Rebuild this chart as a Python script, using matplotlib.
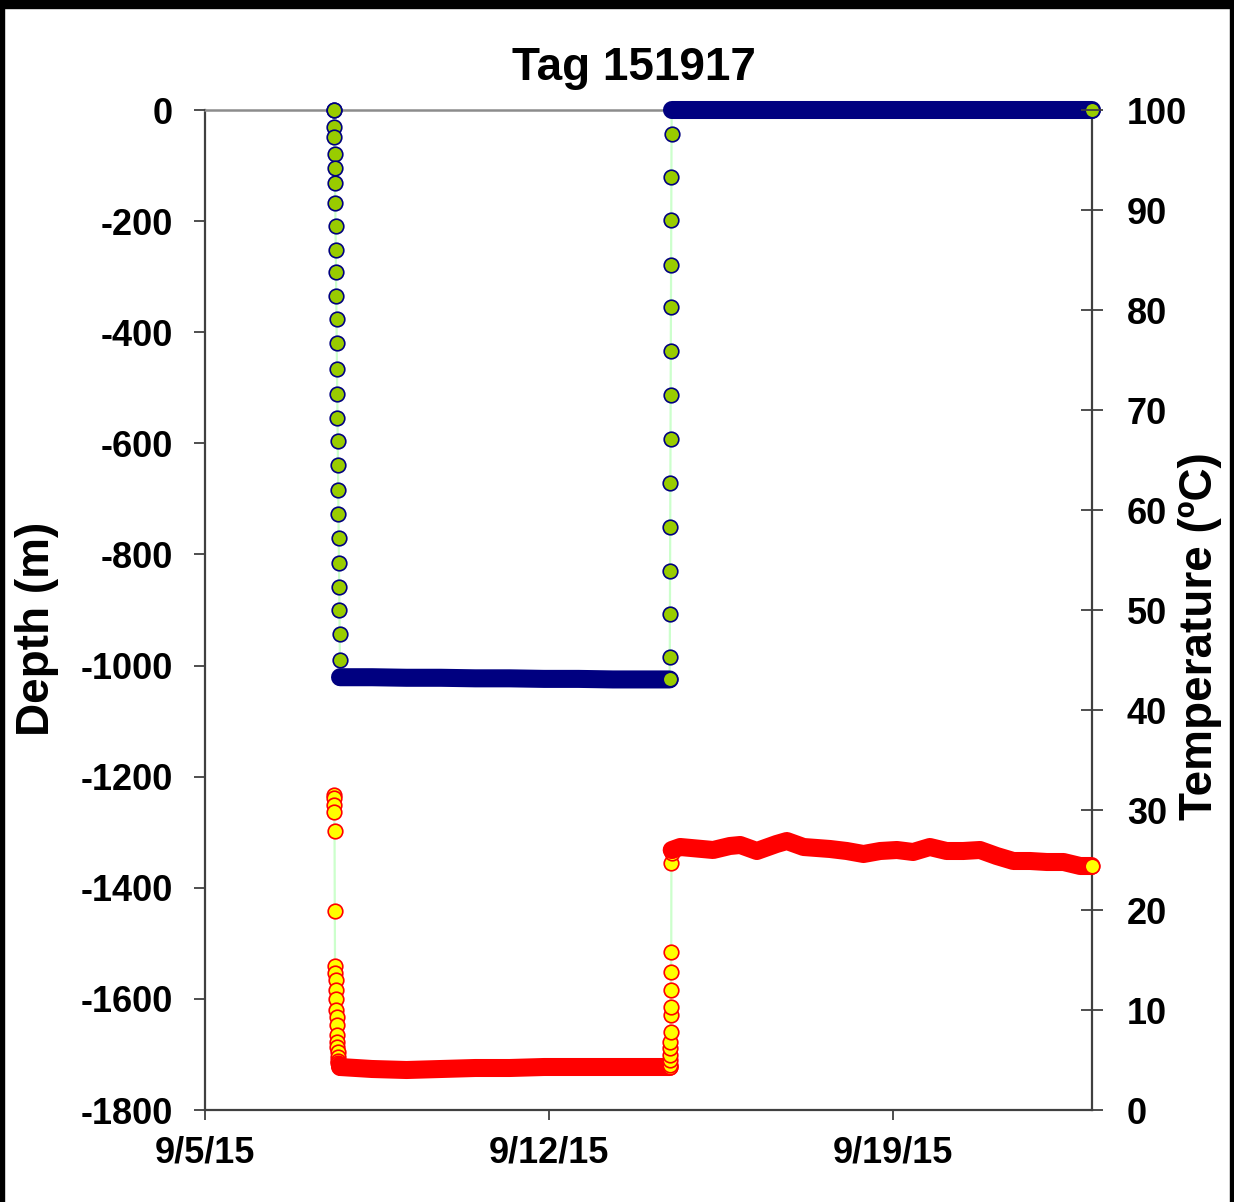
import datetime as dt
import matplotlib
matplotlib.use("Agg")
import matplotlib.pyplot as plt
import matplotlib.dates as mdates
from matplotlib.patches import Rectangle
from matplotlib.ticker import FixedLocator, FuncFormatter

plt.rcParams['font.family'] = ['Liberation Sans', 'DejaVu Sans']
plt.rcParams['font.weight'] = 'bold'

TITLE = "Tag 151917"
START = dt.datetime(2015, 9, 5)

# day offsets from 9/5/15 00:00
descent_day = [2.615, 2.620, 2.626, 2.631, 2.636, 2.641, 2.646, 2.651, 2.656, 2.661,
               2.666, 2.671, 2.676, 2.681, 2.686, 2.691, 2.696, 2.701, 2.706, 2.711,
               2.716, 2.721, 2.726, 2.731, 2.736, 2.741, 2.745, 2.748]
descent_depth = [0, 0, -31, -49, -79, -104, -131, -167, -209, -252, -292, -335, -376, -419,
                 -466, -511, -554, -596, -639, -684, -727, -770, -815, -859, -900, -943, -990, -1021]
descent_temp = [31.5, 31.2, 30.5, 29.8, 27.9, 19.9, 14.4, 13.7, 13.0, 12.0, 11.1, 10.0, 9.3, 8.5,
                7.5, 6.8, 6.3, 5.8, 5.3, 4.9, 4.7, 4.6, 4.5, 4.4, 4.4, 4.3, 4.3, 4.3]

bottom_day = [2.748, 3.4, 4.1, 4.8, 5.5, 6.2, 6.9, 7.6, 8.3, 9.0, 9.455]
bottom_depth = [-1021, -1021, -1022, -1022, -1023, -1023, -1024, -1024, -1025, -1025, -1025]
bottom_temp = [4.3, 4.1, 4.0, 4.1, 4.2, 4.2, 4.3, 4.3, 4.3, 4.3, 4.3]

ascent_day = [9.455, 9.458, 9.461, 9.464, 9.467, 9.470, 9.473, 9.476, 9.479, 9.482,
              9.485, 9.488, 9.491, 9.494, 9.497]
ascent_depth = [-1025, -985, -907, -830, -751, -671, -592, -513, -434, -355, -279, -198, -121, -43, 0]
ascent_temp = [4.3, 4.5, 5.0, 5.5, 6.2, 6.8, 7.8, 9.5, 10.3, 12.0, 13.8, 15.8, 24.7, 25.7, 26.0]

surface_day = [9.497, 9.67, 10.34, 10.68, 10.89, 11.23, 11.63, 11.84, 12.18, 12.72, 13.06, 13.40,
               13.74, 14.08, 14.41, 14.75, 15.09, 15.43, 15.77, 16.11, 16.45, 16.79, 17.13,
               17.47, 17.81, 18.04]
surface_depth = [0, 0, 0, 0, 0, 0, 0, 0, 0, 0, 0, 0, 0, 0, 0, 0, 0, 0, 0, 0, 0, 0, 0, 0, 0, 0]
surface_temp = [26.0, 26.3, 26.0, 26.4, 26.5, 25.9, 26.6, 26.9, 26.3, 26.1, 25.9, 25.6, 25.9,
                26.0, 25.8, 26.3, 25.9, 25.9, 26.0, 25.4, 24.9, 24.9, 24.8, 24.8, 24.4, 24.4]

x_ticks = ["2015-09-05", "2015-09-12", "2015-09-19"]
x_end_day = 18.05
depth_ticks = [0, -200, -400, -600, -800, -1000, -1200, -1400, -1600, -1800]
temp_ticks = [0, 10, 20, 30, 40, 50, 60, 70, 80, 90, 100]

base = mdates.date2num(START)
def tx(days):
    return [base + d for d in days]

NAVY = '#000080'
GREEN = '#99CC00'
RED = '#FF0000'
YELLOW = '#FFFF00'
LINK = '#CCFFCC'
SPINE = '#404040'

W, H = 1234, 1202
fig = plt.figure(figsize=(W / 100, H / 100), dpi=100)
fig.patch.set_facecolor('white')
ax = fig.add_axes([205 / W, 1 - 1110 / H, (1092 - 205) / W, (1110 - 110) / H])
ax2 = ax.twinx()

ms = 10.5
mew = 1.2
band_lw = 13


def draw_series(a, descent_y, bottom_y, ascent_y, surface_y, fill, edge):
    all_x = tx(descent_day + bottom_day + ascent_day + surface_day)
    all_y = descent_y + bottom_y + ascent_y + surface_y
    a.plot(all_x, all_y, color=LINK, lw=1.6, zorder=2, clip_on=False)
    a.plot(tx(descent_day), descent_y, ls='none', marker='o', ms=ms, mfc=fill, mec=edge,
           mew=mew, zorder=3, clip_on=False)
    a.plot(tx(bottom_day), bottom_y, color=edge, lw=band_lw, solid_capstyle='round',
           solid_joinstyle='round', zorder=4, clip_on=False)
    a.plot(tx(ascent_day), ascent_y, ls='none', marker='o', ms=ms, mfc=fill, mec=edge,
           mew=mew, zorder=5, clip_on=False)
    a.plot(tx(surface_day), surface_y, color=edge, lw=band_lw, solid_capstyle='round',
           solid_joinstyle='round', zorder=6, clip_on=False)
    a.plot(tx(surface_day[-1:]), surface_y[-1:], ls='none', marker='o', ms=ms,
           mfc=fill, mec=edge, mew=mew, zorder=7, clip_on=False)


draw_series(ax, descent_depth, bottom_depth, ascent_depth, surface_depth, GREEN, NAVY)
draw_series(ax2, descent_temp, bottom_temp, ascent_temp, surface_temp, YELLOW, RED)

# --- axes setup ---
ax.set_xlim(base, base + x_end_day)
ax.set_ylim(-1800, 0)
ax2.set_ylim(0, 100)

ax.xaxis.set_major_locator(FixedLocator([mdates.date2num(dt.datetime.fromisoformat(s)) for s in x_ticks]))
def datefmt(v, pos):
    d = mdates.num2date(v)
    return f"{d.month}/{d.day}/{d.strftime('%y')}"
ax.xaxis.set_major_formatter(FuncFormatter(datefmt))
ax.set_yticks(depth_ticks)
ax.set_yticklabels([str(t) for t in depth_ticks])
ax2.set_yticks(temp_ticks)
ax2.set_yticklabels([str(t) for t in temp_ticks])

for s in ['left', 'right', 'bottom']:
    ax.spines[s].set_color(SPINE)
    ax.spines[s].set_linewidth(1.6)
ax.spines['top'].set_color('#8c8c8c')
ax.spines['top'].set_linewidth(1.8)
for s in ax.spines:
    ax.spines[s].set_zorder(1)
for s in ax2.spines.values():
    s.set_visible(False)

ax.tick_params(axis='y', direction='out', length=8, width=1.3, color=SPINE,
               labelsize=26, pad=15)
ax.tick_params(axis='x', direction='out', length=7.5, width=1.3, color=SPINE,
               labelsize=26, pad=11)
ax2.tick_params(axis='y', direction='inout', length=16, width=1.3, color=SPINE,
                labelsize=26, pad=17)
for lbl in ax.get_xticklabels() + ax.get_yticklabels() + ax2.get_yticklabels():
    lbl.set_fontweight('bold')

fig.text(634 / W, 1 - 80 / H, TITLE, ha='center', va='baseline', fontsize=33, fontweight='bold')
fig.text(37 / W, 1 - 629 / H, "Depth (m)", ha='center', va='center', rotation=90,
         fontsize=33, fontweight='bold')
fig.text(1200 / W, 1 - 636 / H, "Temperature (ºC)", ha='center', va='center', rotation=90,
         fontsize=33, fontweight='bold')

# black frame edges
fig.add_artist(Rectangle((0, 1 - 8 / H), 1, 8 / H, transform=fig.transFigure,
                         color='black', zorder=10))
fig.add_artist(Rectangle((0, 0), 4 / W, 1, transform=fig.transFigure, color='black', zorder=10))
fig.add_artist(Rectangle((1 - 4 / W, 0), 4 / W, 1, transform=fig.transFigure,
                         color='black', zorder=10))

fig.savefig("out.png", dpi=100)
